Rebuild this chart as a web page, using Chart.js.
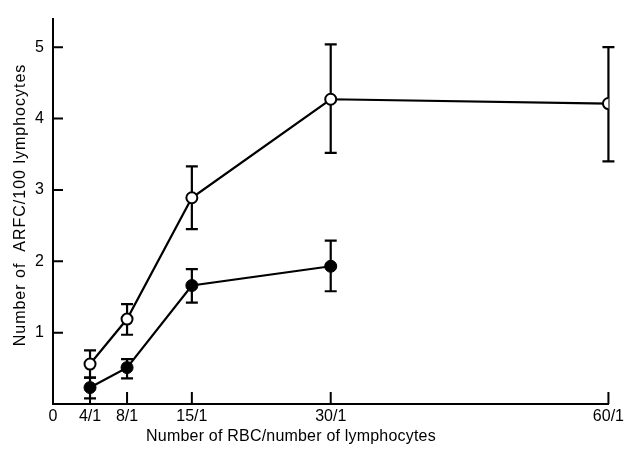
<!DOCTYPE html>
<html>
<head>
<meta charset="utf-8">
<script src="https://cdn.jsdelivr.net/npm/chart.js@4/dist/chart.umd.min.js"></script>
<style>
html,body{margin:0;padding:0;background:#fff;}
#wrap{width:627px;height:450px;}
</style>
</head>
<body>
<div id="wrap"><canvas id="c" width="627" height="450"></canvas></div>
<script>
// ---- data ----
const xTickValues = [0, 4, 8, 15, 30, 60];
const xTickLabels = ['0', '4/1', '8/1', '15/1', '30/1', '60/1'];
const yTickValues = [1, 2, 3, 4, 5];

const openX = [4, 8, 15, 30, 60];
const openMean = [0.56, 1.19, 2.89, 4.27, 4.21];
const openLow = [0.37, 0.97, 2.45, 3.52, 3.40];
const openHigh = [0.75, 1.40, 3.33, 5.04, 5.00];

const filledX = [4, 8, 15, 30];
const filledMean = [0.23, 0.51, 1.66, 1.93];
const filledLow = [0.08, 0.36, 1.42, 1.58];
const filledHigh = [0.37, 0.63, 1.89, 2.29];

const xTitle = 'Number of RBC/number of lymphocytes';
const yTitle = 'Number of  ARFC/100 lymphocytes';

const FONT = '"Liberation Sans", Arial, sans-serif';

function pts(xs, ys) { return xs.map((x, i) => ({ x: x, y: ys[i] })); }

const errorBars = {
  id: 'errorBars',
  beforeDatasetsDraw(chart) {
    const ctx = chart.ctx, xs = chart.scales.x, ys = chart.scales.y;
    ctx.save();
    ctx.strokeStyle = '#000';
    ctx.lineWidth = 2.2;
    const sets = [[openX, openLow, openHigh], [filledX, filledLow, filledHigh]];
    sets.forEach(([X, L, H]) => {
      X.forEach((x, i) => {
        const px = xs.getPixelForValue(x);
        const lo = ys.getPixelForValue(L[i]);
        const hi = ys.getPixelForValue(H[i]);
        ctx.beginPath();
        ctx.moveTo(px, lo); ctx.lineTo(px, hi);
        ctx.moveTo(px - 6, lo); ctx.lineTo(px + 6, lo);
        ctx.moveTo(px - 6, hi); ctx.lineTo(px + 6, hi);
        ctx.stroke();
      });
    });
    ctx.restore();
  },
  afterDraw(chart) {
    const ctx = chart.ctx, xs = chart.scales.x, ys = chart.scales.y;
    const a = chart.chartArea;
    ctx.save();
    ctx.strokeStyle = '#000';
    ctx.lineWidth = 2;
    ctx.beginPath();
    xTickValues.forEach(v => {
      if (v === 0) return;
      const px = xs.getPixelForValue(v);
      ctx.moveTo(px, a.bottom); ctx.lineTo(px, a.bottom - 12);
    });
    yTickValues.forEach(v => {
      const py = ys.getPixelForValue(v);
      ctx.moveTo(a.left, py); ctx.lineTo(a.left + 10, py);
    });
    ctx.stroke();
    // axis titles
    ctx.fillStyle = '#000';
    ctx.font = '16px ' + FONT;
    ctx.textAlign = 'center';
    ctx.textBaseline = 'middle';
    ctx.letterSpacing = '0.2px';
    ctx.fillText(xTitle, 291, 437);
    ctx.translate(21, 205);
    ctx.rotate(-Math.PI / 2);
    ctx.letterSpacing = '1px';
    ctx.fillText(yTitle, 0, 0);
    ctx.restore();
  }
};

new Chart(document.getElementById('c'), {
  type: 'line',
  data: {
    datasets: [
      {
        data: pts(filledX, filledMean),
        borderColor: '#000',
        borderWidth: 2.2,
        backgroundColor: '#000',
        pointBackgroundColor: '#000',
        pointBorderColor: '#000',
        pointRadius: 6,
        pointBorderWidth: 1,
        tension: 0
      },
      {
        data: pts(openX, openMean),
        borderColor: '#000',
        borderWidth: 2.2,
        pointBackgroundColor: '#fff',
        pointBorderColor: '#000',
        pointRadius: 5.5,
        pointBorderWidth: 2,
        tension: 0
      }
    ]
  },
  options: {
    responsive: false,
    animation: false,
    events: [],
    layout: { padding: { top: 8, right: 15, left: 0, bottom: 0 } },
    plugins: { legend: { display: false }, tooltip: { enabled: false } },
    scales: {
      x: {
        type: 'linear',
        min: 0, max: 60,
        afterFit(s) { s.height = 46; },
        afterBuildTicks(s) { s.ticks = xTickValues.map(v => ({ value: v })); },
        grid: { display: false, drawTicks: false },
        border: { display: true, color: '#000', width: 2 },
        ticks: {
          autoSkip: false,
          maxRotation: 0,
          padding: 3,
          color: '#000',
          font: { size: 16, family: FONT },
          callback(v) { const i = xTickValues.indexOf(v); return i >= 0 ? xTickLabels[i] : ''; }
        }
      },
      y: {
        type: 'linear',
        min: 0, max: 5.4,
        afterFit(s) { s.width = 53; },
        afterBuildTicks(s) { s.ticks = yTickValues.map(v => ({ value: v })); },
        grid: { display: false, drawTicks: false },
        border: { display: true, color: '#000', width: 2 },
        ticks: {
          padding: 9,
          color: '#000',
          font: { size: 16, family: FONT },
          callback(v) { return String(v); }
        }
      }
    }
  },
  plugins: [errorBars]
});
</script>
</body>
</html>
